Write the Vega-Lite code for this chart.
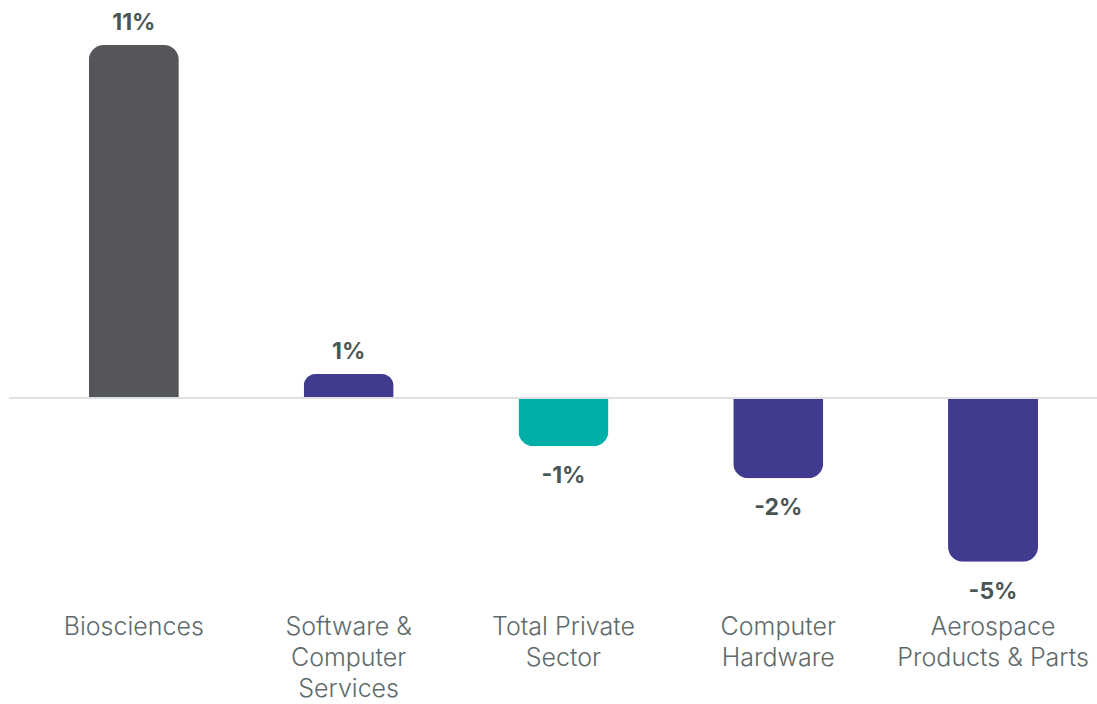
{
  "$schema": "https://vega.github.io/schema/vega-lite/v6.json",
  "width": 1089,
  "height": 600,
  "padding": {"left": 8, "top": 0, "right": 0, "bottom": 0},
  "background": "white",
  "config": {"view": {"stroke": null}},
  "data": {
    "values": [
      {"category": "Biosciences", "value": 11.0, "label": "11%", "group": "bio"},
      {"category": "Software & Computer Services", "value": 0.75, "label": "1%", "group": "tech"},
      {"category": "Total Private Sector", "value": -1.5, "label": "-1%", "group": "total"},
      {"category": "Computer Hardware", "value": -2.5, "label": "-2%", "group": "tech"},
      {"category": "Aerospace Products & Parts", "value": -5.1, "label": "-5%", "group": "tech"}
    ]
  },
  "encoding": {
    "x": {
      "field": "category",
      "type": "nominal",
      "sort": null,
      "scale": {"paddingInner": 0.581, "paddingOuter": 0.3254, "align": 0.571},
      "axis": {
        "title": null,
        "orient": "bottom",
        "domain": false,
        "ticks": false,
        "labelAngle": 0,
        "labelPadding": 14,
        "labelFont": "Inter",
        "labelFontWeight": 300,
        "labelFontSize": 25,
        "labelColor": "#5f6b6b",
        "labelLineHeight": 31,
        "labelLimit": 400,
        "labelExpr": "{'Biosciences': ['Biosciences'], 'Software & Computer Services': ['Software &', 'Computer', 'Services'], 'Total Private Sector': ['Total Private', 'Sector'], 'Computer Hardware': ['Computer', 'Hardware'], 'Aerospace Products & Parts': ['Aerospace', 'Products & Parts']}[datum.value]"
      }
    },
    "y": {
      "field": "value",
      "type": "quantitative",
      "scale": {"domain": [-6.29, 12.4], "nice": false, "zero": false},
      "axis": null
    },
    "color": {
      "field": "group",
      "type": "nominal",
      "scale": {"domain": ["bio", "tech", "total"], "range": ["#54565a", "#413b8f", "#00afa8"]},
      "legend": null
    }
  },
  "layer": [
    {
      "transform": [{"filter": "datum.value >= 0"}],
      "mark": {"type": "bar", "cornerRadiusTopLeft": 15, "cornerRadiusTopRight": 15}
    },
    {
      "transform": [{"filter": "datum.value < 0"}],
      "mark": {"type": "bar", "cornerRadiusBottomLeft": 15, "cornerRadiusBottomRight": 15}
    },
    {
      "mark": {"type": "rule", "color": "#dde1e1", "strokeWidth": 2},
      "encoding": {
        "y": {"datum": 0, "type": "quantitative"},
        "x": {"value": 0},
        "x2": {"value": 1089},
        "color": {"value": "#dde1e1"}
      }
    },
    {
      "transform": [{"filter": "datum.value >= 0"}],
      "mark": {"type": "text", "baseline": "alphabetic", "dy": -15, "font": "Inter", "fontWeight": "bold", "fontSize": 23},
      "encoding": {
        "text": {"field": "label"},
        "color": {"value": "#4a5656"}
      }
    },
    {
      "transform": [{"filter": "datum.value < 0"}],
      "mark": {"type": "text", "baseline": "top", "dy": 19, "font": "Inter", "fontWeight": "bold", "fontSize": 23},
      "encoding": {
        "text": {"field": "label"},
        "color": {"value": "#4a5656"}
      }
    }
  ]
}
